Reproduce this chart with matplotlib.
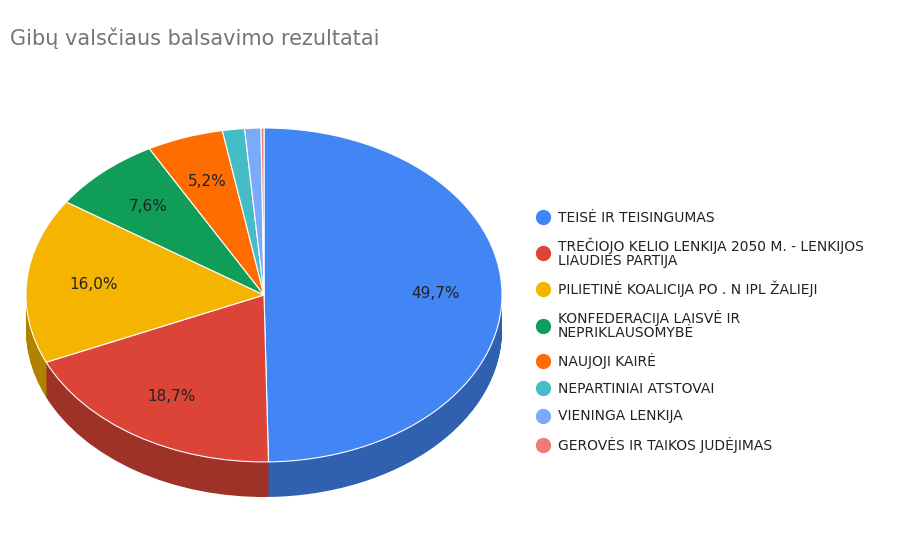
import matplotlib
matplotlib.use("Agg")
import matplotlib.pyplot as plt
from matplotlib.lines import Line2D
from matplotlib.colors import to_rgb
import numpy as np

categories = ["TEISĖ IR TEISINGUMAS",
              "TREČIOJO KELIO LENKIJA 2050 M. - LENKIJOS\nLIAUDIES PARTIJA",
              "PILIETINĖ KOALICIJA PO . N IPL ŽALIEJI",
              "KONFEDERACIJA LAISVĖ IR\nNEPRIKLAUSOMYBĖ",
              "NAUJOJI KAIRĖ",
              "NEPARTINIAI ATSTOVAI",
              "VIENINGA LENKIJA",
              "GEROVĖS IR TAIKOS JUDĖJIMAS"]
values = [49.7, 18.7, 16.0, 7.6, 5.2, 1.5, 1.1, 0.2]
colors = ["#4285F4", "#DB4437", "#F4B400", "#0F9D58", "#FF6D01", "#46BDC6", "#7BAAF7", "#F07B72"]

W, H = 923, 553
fig = plt.figure(figsize=(W/100, H/100), dpi=100)
fig.patch.set_facecolor("white")

depth = 0.21
top_px, bot_px = 128, 497
ax = fig.add_axes([26/W, (H-bot_px)/H, 476/W, (bot_px-top_px)/H])
dark = [tuple(c*0.72 for c in to_rgb(col)) for col in colors]
for d in np.linspace(depth, 0.005, 40):
    ax.pie(values, colors=dark, startangle=90, counterclock=False, center=(0, -d),
           radius=1, frame=True, wedgeprops=dict(linewidth=0))
wedges, texts, autos = ax.pie(values, colors=colors, startangle=90, counterclock=False,
       center=(0, 0), radius=1, frame=True,
       autopct=lambda p: (f"{p:.1f}%".replace(".", ",") if p >= 5 else ""),
       pctdistance=0.72, wedgeprops=dict(linewidth=0.8, edgecolor="white"),
       textprops=dict(fontsize=11, color="#222222"))
ax.set_aspect("auto")
ax.set_xlim(-1, 1)
ax.set_ylim(-1 - depth, 1)
ax.axis("off")

fig.text(10/W, 1-38/H, "Gibų valsčiaus balsavimo rezultatai", fontsize=15, color="#757575",
         va="center", ha="left")

handles = [Line2D([], [], marker="o", linestyle="", markersize=10, color=c) for c in colors]
leg = fig.legend(handles, categories, loc="upper left", bbox_to_anchor=(522/W, 1-198/H),
                 frameon=False, fontsize=10, labelspacing=0.95, handletextpad=0.5,
                 handlelength=1.2)
for t in leg.get_texts():
    t.set_color("#222222")
    t.set_linespacing(0.95)

fig.savefig("out.png", dpi=100, facecolor="white")
